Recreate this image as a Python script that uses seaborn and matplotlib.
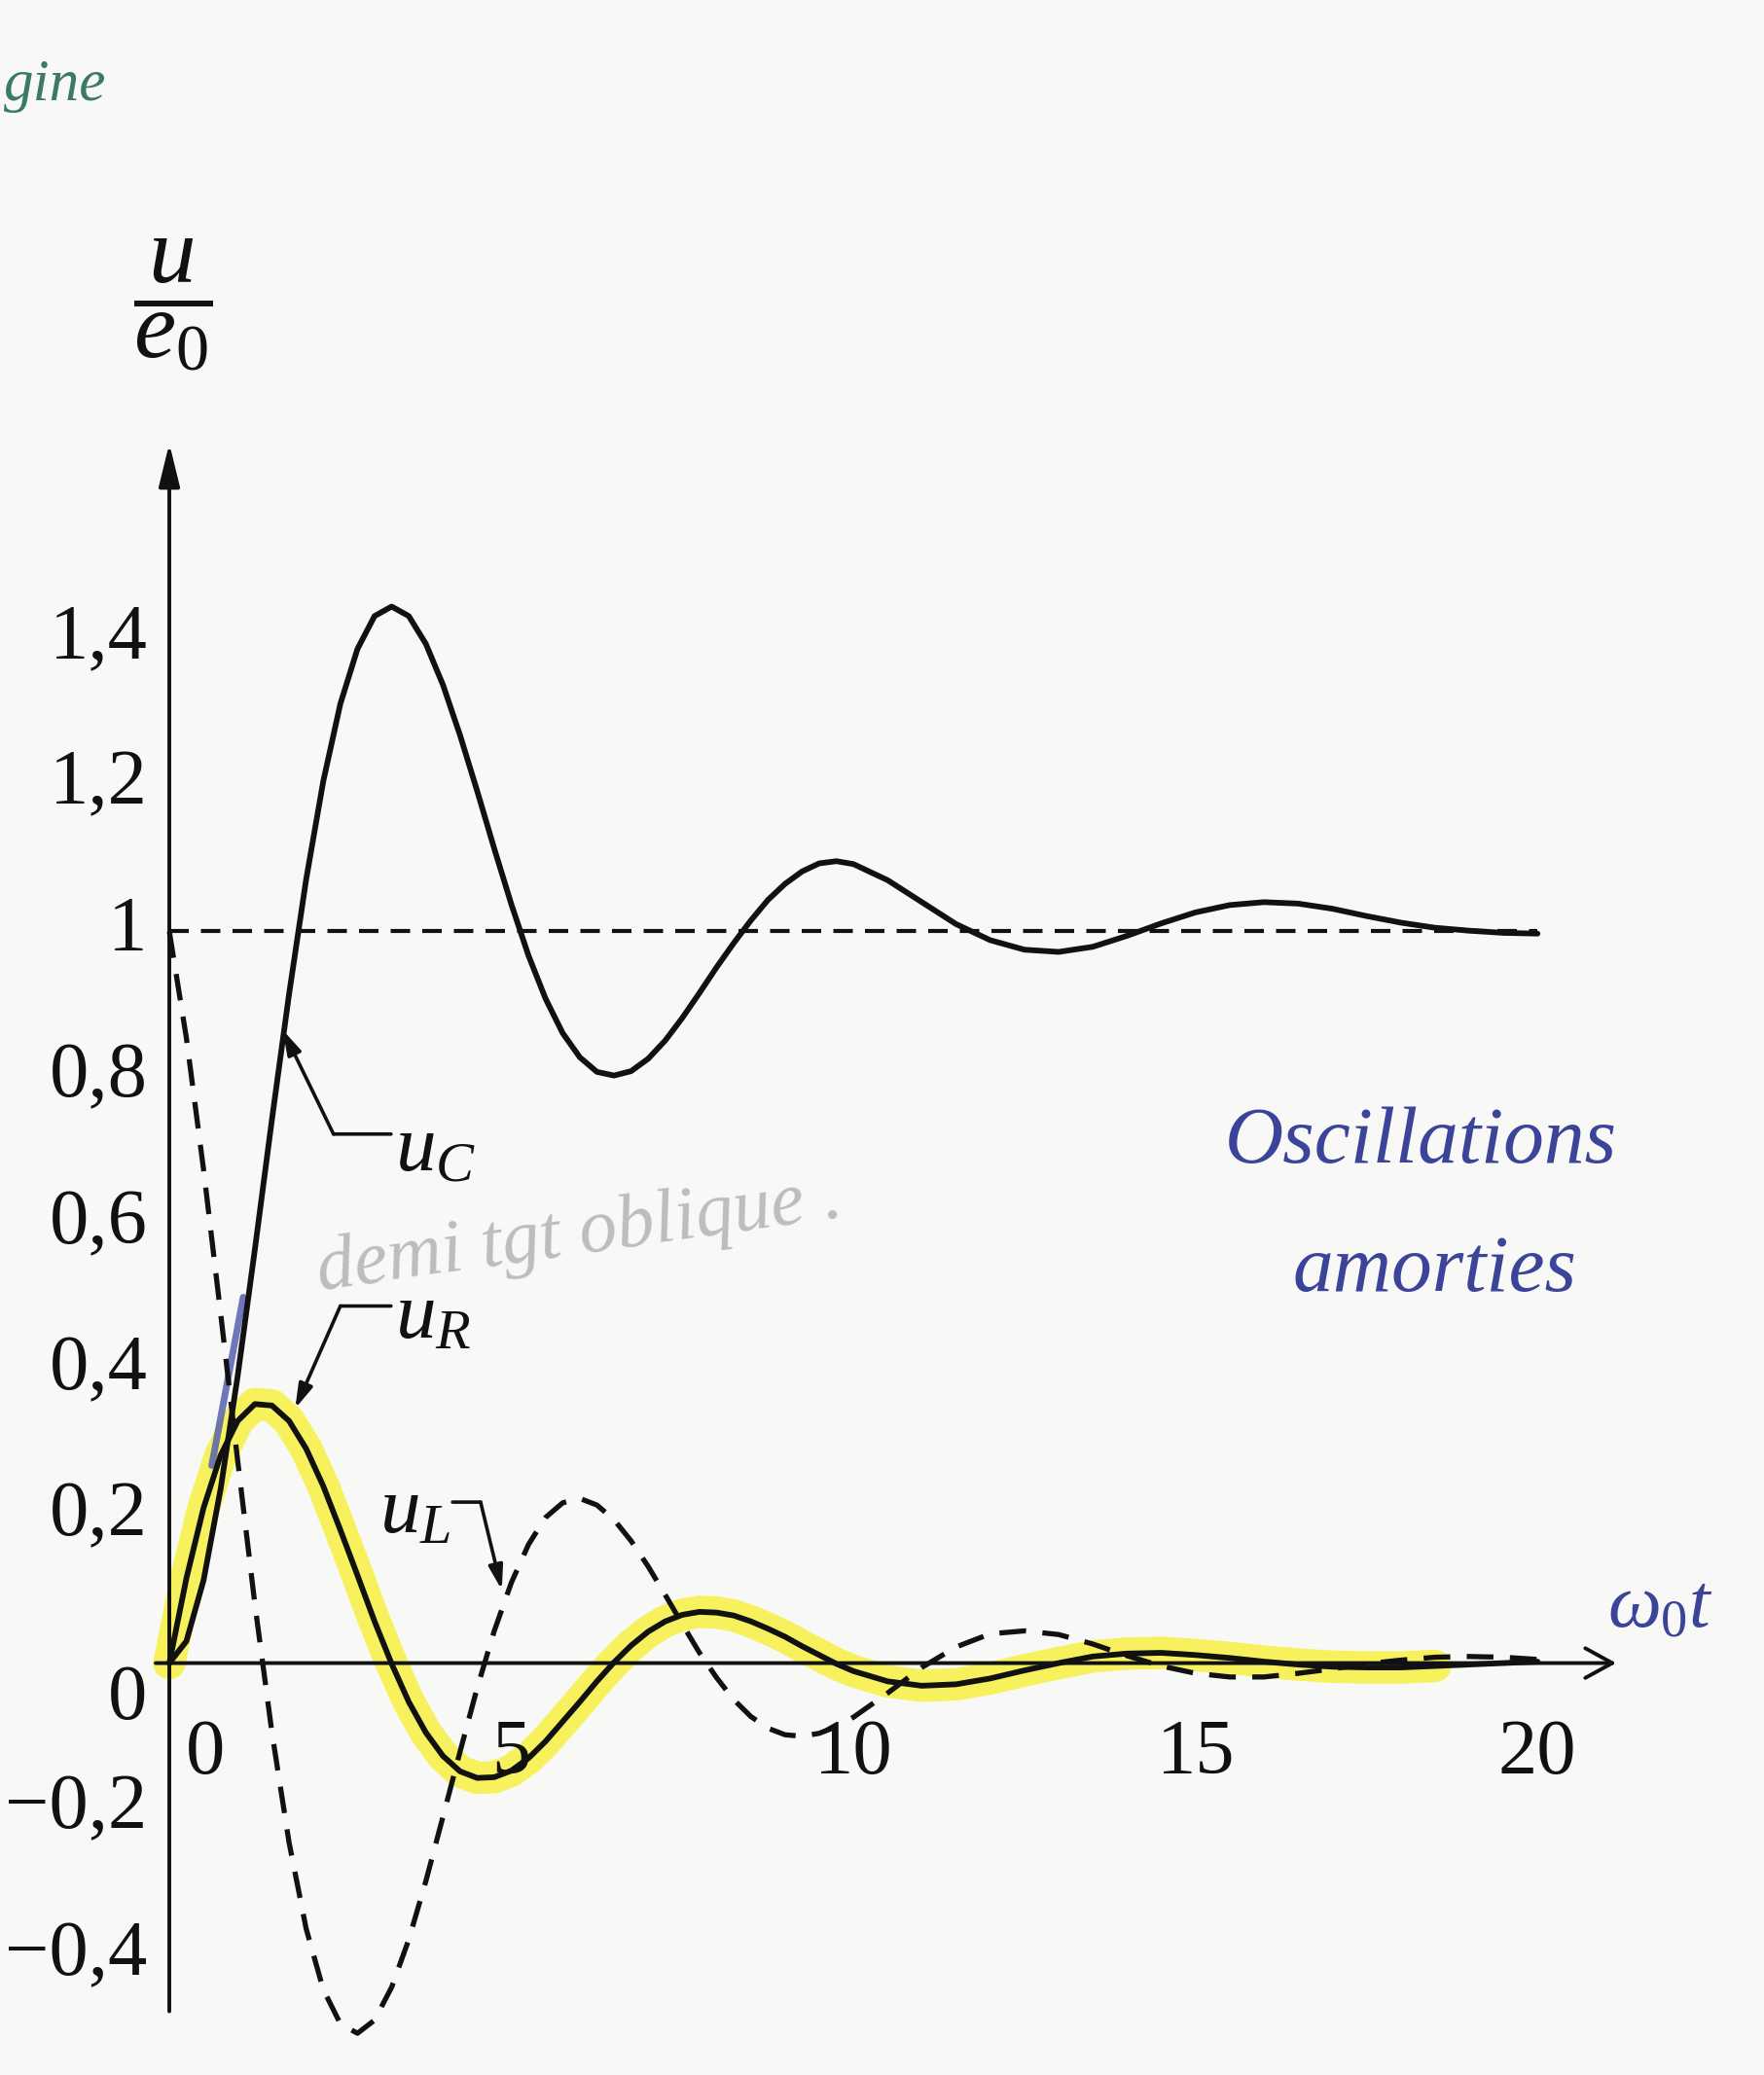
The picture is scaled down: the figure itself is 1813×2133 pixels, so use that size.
import matplotlib
matplotlib.use("Agg")
import matplotlib.pyplot as plt
import seaborn as sns

# ---------------- data ----------------
x = [0, 0.25, 0.5, 0.75, 1, 1.25, 1.5, 1.75, 2, 2.25, 2.5, 2.75, 3, 3.25, 3.5, 3.75,
     4, 4.25, 4.5, 4.75, 5, 5.25, 5.5, 5.75, 6, 6.25, 6.5, 6.75, 7, 7.25, 7.5, 7.75,
     8, 8.25, 8.5, 8.75, 9, 9.25, 9.5, 9.75, 10, 10.5, 11, 11.5, 12, 12.5, 13, 13.5,
     14, 14.5, 15, 15.5, 16, 16.5, 17, 17.5, 18, 18.5, 19, 19.5, 20]

u_C = [0.000, 0.030, 0.113, 0.238, 0.393, 0.565, 0.743, 0.914, 1.071, 1.205, 1.311,
       1.386, 1.431, 1.444, 1.431, 1.393, 1.337, 1.268, 1.192, 1.113, 1.037, 0.967,
       0.908, 0.861, 0.828, 0.808, 0.803, 0.809, 0.826, 0.851, 0.882, 0.916, 0.951,
       0.984, 1.015, 1.043, 1.065, 1.082, 1.093, 1.096, 1.092, 1.070, 1.040, 1.010,
       0.988, 0.975, 0.972, 0.979, 0.994, 1.011, 1.026, 1.036, 1.040, 1.038, 1.031,
       1.021, 1.012, 1.005, 1.001, 0.998, 0.997]

u_R = [0.000, 0.116, 0.212, 0.284, 0.331, 0.354, 0.352, 0.331, 0.293, 0.242, 0.182,
       0.120, 0.057, -0.001, -0.053, -0.095, -0.127, -0.148, -0.157, -0.156, -0.147,
       -0.130, -0.107, -0.080, -0.053, -0.025, 0.001, 0.024, 0.043, 0.057, 0.066,
       0.070, 0.069, 0.065, 0.057, 0.047, 0.036, 0.023, 0.011, -0.001, -0.011,
       -0.025, -0.031, -0.029, -0.021, -0.010, 0.000, 0.009, 0.013, 0.014, 0.011,
       0.007, 0.002, -0.002, -0.005, -0.006, -0.006, -0.004, -0.002, 0.000, 0.002]

u_L = [1.000, 0.854, 0.675, 0.478, 0.276, 0.081, -0.095, -0.245, -0.363, -0.446,
       -0.493, -0.506, -0.488, -0.443, -0.378, -0.298, -0.210, -0.121, -0.034, 0.044,
       0.110, 0.162, 0.199, 0.219, 0.225, 0.216, 0.196, 0.167, 0.132, 0.093, 0.053,
       0.014, -0.020, -0.050, -0.073, -0.089, -0.098, -0.100, -0.096, -0.087, -0.074,
       -0.041, -0.006, 0.022, 0.040, 0.044, 0.039, 0.026, 0.010, -0.004, -0.014,
       -0.019, -0.019, -0.014, -0.008, -0.001, 0.004, 0.008, 0.009, 0.008, 0.005]

asymptote_x = [0, 20]
asymptote_y = [1, 1]

ytick_values = [-0.4, -0.2, 0.0, 0.2, 0.4, 0.6, 0.8, 1.0, 1.2, 1.4]
ytick_labels = ["−0,4", "−0,2", "0", "0,2", "0,4", "0,6", "0,8", "1", "1,2", "1,4"]
xtick_values = [0, 5, 10, 15, 20]
xtick_labels = ["0", "5", "10", "15", "20"]
highlight_end = 18.5

# ---------------- style ----------------
sns.set_style("white")
plt.rcParams["font.family"] = ["Liberation Serif", "DejaVu Serif"]
plt.rcParams["mathtext.fontset"] = "custom"
plt.rcParams["mathtext.it"] = "Liberation Serif:italic"
plt.rcParams["mathtext.rm"] = "Liberation Serif"
plt.rcParams["mathtext.bf"] = "Liberation Serif:bold"

BG = "#f8f8f6"
INK = "#111111"
BLUE = "#3b4499"

fig = plt.figure(figsize=(18.13, 21.33), dpi=100, facecolor=BG)
ax = fig.add_axes([0, 0, 1, 1])
ax.set_facecolor(BG)
ax.set_xlim(-2.475, 23.31)
ax.set_ylim(-0.563, 2.273)

# axes through the origin (ticks as crosses)
for side in ("left", "bottom"):
    ax.spines[side].set_position(("data", 0))
    ax.spines[side].set_visible(False)
for side in ("right", "top"):
    ax.spines[side].set_visible(False)
ax.set_xticks([v for v in xtick_values if v != 0])
ax.set_yticks([v for v in ytick_values if v != 0])
ax.set_xticklabels([])
ax.set_yticklabels([])
ax.tick_params(axis="both", direction="inout", length=18, width=2.6, color=INK)

ax.annotate("", xy=(0, 1.667), xytext=(0, -0.476),
            arrowprops=dict(arrowstyle="-|>,head_length=1.35,head_width=0.33",
                            color=INK, lw=2.8, mutation_scale=20, shrinkA=0, shrinkB=0))
ax.annotate("", xy=(21.15, 0), xytext=(-0.2, 0),
            arrowprops=dict(arrowstyle="->,head_length=1.0,head_width=0.55",
                            color=INK, lw=2.8, mutation_scale=20, shrinkA=0, shrinkB=0))

# yellow highlighter along u_R
xh = [v for v in x if v <= highlight_end]
uh = u_R[:len(xh)]
sns.lineplot(x=xh, y=uh, ax=ax, color="#f6ef1c", lw=24, alpha=0.7,
             solid_capstyle="round", zorder=1)

# asymptote and curves
sns.lineplot(x=asymptote_x, y=asymptote_y, ax=ax, color=INK, lw=3.0,
             linestyle=(0, (4.8, 3.0)), zorder=3)
sns.lineplot(x=x, y=u_C, ax=ax, color=INK, lw=4.2, zorder=4)
sns.lineplot(x=x, y=u_R, ax=ax, color=INK, lw=4.2, zorder=4)
sns.lineplot(x=x, y=u_L, ax=ax, color=INK, lw=3.8,
             linestyle=(0, (5.2, 3.2)), zorder=4)

# tick labels
TICK_FS = 58
for v, lab in zip(ytick_values, ytick_labels):
    yy = v - 0.05 if v == 0 else v
    ax.text(-0.32, yy, lab, ha="right", va="center", fontsize=TICK_FS, color=INK)
for v, lab in zip(xtick_values, xtick_labels):
    xx = v + 0.52 if v == 0 else v
    ax.text(xx, -0.125, lab, ha="center", va="center", fontsize=TICK_FS, color=INK)

# y-axis label
ax.text(0.05, 1.855, r"$\dfrac{u}{e_0}$", ha="center", va="center",
        fontsize=70, color=INK)

# curve labels with leader lines
lead = dict(color=INK, lw=2.6, shrinkA=0, shrinkB=0)
head = "-|>,head_length=0.75,head_width=0.22"

ax.text(3.3, 0.70, r"$u_C$", ha="left", va="center", fontsize=60, color=INK)
ax.annotate("", xy=(2.40, 0.723), xytext=(3.24, 0.723),
            arrowprops=dict(arrowstyle="-", **lead))
ax.annotate("", xy=(1.66, 0.865), xytext=(2.40, 0.723),
            arrowprops=dict(arrowstyle=head, mutation_scale=20, **lead))

ax.text(3.3, 0.47, r"$u_R$", ha="left", va="center", fontsize=60, color=INK)
ax.annotate("", xy=(2.50, 0.488), xytext=(3.24, 0.488),
            arrowprops=dict(arrowstyle="-", **lead))
ax.annotate("", xy=(1.84, 0.348), xytext=(2.50, 0.488),
            arrowprops=dict(arrowstyle=head, mutation_scale=20, **lead))

ax.text(4.12, 0.205, r"$u_L$", ha="right", va="center", fontsize=60, color=INK)
ax.annotate("", xy=(4.55, 0.22), xytext=(4.14, 0.22),
            arrowprops=dict(arrowstyle="-", **lead))
ax.annotate("", xy=(4.86, 0.10), xytext=(4.55, 0.22),
            arrowprops=dict(arrowstyle=head, mutation_scale=20, **lead))

# handwritten notes
ax.text(18.3, 0.71, "Oscillations", ha="center", va="center", fontsize=60,
        style="italic", color=BLUE)
ax.text(18.5, 0.535, "amorties", ha="center", va="center", fontsize=60,
        style="italic", color=BLUE)
ax.text(21.8, 0.075, r"$\omega_0 t$", ha="center", va="center", fontsize=56,
        color=BLUE)
ax.text(6.0, 0.585, "demi tgt oblique .", ha="center", va="center", fontsize=56,
        style="italic", color="#bdbdbd", rotation=8)
ax.annotate("", xy=(1.08, 0.50), xytext=(0.62, 0.27),
            arrowprops=dict(arrowstyle="-", color="#5560b0", lw=5,
                            shrinkA=0, shrinkB=0, alpha=0.85))
fig.text(0.002, 1 - 88 / 2133, "gine", ha="left", va="center", fontsize=44,
         style="italic", color="#3c7a68")

fig.savefig("out.png", dpi=100, facecolor=BG)
